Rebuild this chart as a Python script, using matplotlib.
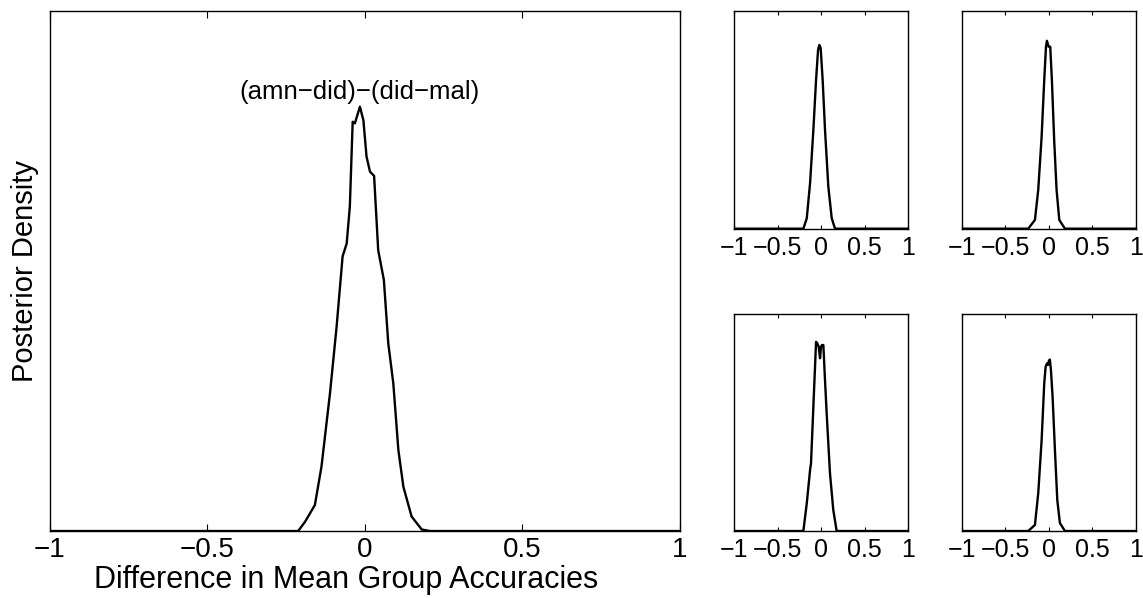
import matplotlib
matplotlib.use("Agg")
import matplotlib.pyplot as plt

plt.rcParams['font.family'] = ['Liberation Sans', 'DejaVu Sans']

# main panel: (amn-did)-(did-mal)
main_x = [-1.0, -0.212, -0.19, -0.159, -0.138, -0.111, -0.09, -0.071, -0.058, -0.048,
          -0.039, -0.032, -0.024, -0.016, -0.005, 0.005, 0.016, 0.029, 0.042, 0.06,
          0.074, 0.09, 0.106, 0.122, 0.148, 0.18, 0.206, 1.0]
main_y = [0.0, 0.0, 0.126, 0.35, 0.868, 1.855, 2.751, 3.696, 3.871, 4.368,
          5.509, 5.488, 5.6, 5.712, 5.53, 5.04, 4.837, 4.781, 3.78, 3.381,
          2.527, 1.988, 1.092, 0.595, 0.196, 0.021, 0.0, 0.0]
main_title = '(amn\u2212did)\u2212(did\u2212mal)'

# small panels
tl_x = [-1.0, -0.203, -0.164, -0.126, -0.088, -0.057, -0.034, -0.019, -0.004,
        0.019, 0.046, 0.084, 0.123, 0.161, 1.0]
tl_y = [0.0, 0.0, 0.33, 1.456, 3.171, 4.774, 5.74, 5.9, 5.796,
        4.774, 3.171, 1.351, 0.336, 0.0, 0.0]

tr_x = [-1.0, -0.238, -0.161, -0.123, -0.084, -0.054, -0.034, -0.023, -0.004,
        0.015, 0.034, 0.061, 0.088, 0.119, 0.184, 1.0]
tr_y = [0.0, 0.0, 0.28, 1.246, 2.954, 4.774, 5.845, 6.034, 5.845,
        5.845, 4.774, 2.8, 1.246, 0.28, 0.0, 0.0]

bl_x = [-1.0, -0.203, -0.164, -0.126, -0.115, -0.088, -0.057, -0.042, -0.027,
        -0.011, 0.0, 0.011, 0.027, 0.042, 0.065, 0.103, 0.141, 0.18, 1.0]
bl_y = [0.0, 0.0, 0.889, 1.967, 2.184, 4.011, 6.104, 6.048, 5.943,
        5.572, 5.943, 5.999, 5.999, 5.089, 3.794, 1.862, 0.679, 0.0, 0.0]

br_x = [-1.0, -0.238, -0.161, -0.123, -0.084, -0.054, -0.038, -0.023, -0.011,
        0.0, 0.011, 0.023, 0.042, 0.069, 0.096, 0.126, 0.184, 1.0]
br_y = [0.0, 0.0, 0.196, 1.218, 2.933, 4.76, 5.299, 5.404, 5.355,
        5.495, 5.53, 5.194, 4.333, 2.611, 1.001, 0.259, 0.0, 0.0]

xticks_main = [-1, -0.5, 0, 0.5, 1]
xtick_labels = ['\u22121', '\u22120.5', '0', '0.5', '1']
ymax = 7.0

fig = plt.figure(figsize=(11.43, 5.98), dpi=100)

ax = fig.add_axes([0.0437, 0.112, 0.5512, 0.8696])
ax.plot(main_x, main_y, color='black', lw=1.7)
ax.set_xlim(-1, 1)
ax.set_ylim(0, ymax)
ax.set_xticks(xticks_main)
ax.set_xticklabels(xtick_labels)
ax.set_yticks([])
ax.tick_params(axis='x', direction='in', top=True, length=5, width=0.8, labelsize=20, pad=4)
ax.set_xlabel('Difference in Mean Group Accuracies', fontsize=22)
ax.xaxis.set_label_coords(0.47, -0.066)
ax.set_ylabel('Posterior Density', fontsize=21, labelpad=8)
i_pk = main_y.index(max(main_y))
ax.text(main_x[i_pk], main_y[i_pk] + 0.1, main_title, ha='center', va='baseline', fontsize=18.5)
for s in ax.spines.values():
    s.set_linewidth(1.0)

small = [
    ([0.6422, 0.6176, 0.1522, 0.3645], tl_x, tl_y),
    ([0.8416, 0.6176, 0.1522, 0.3645], tr_x, tr_y),
    ([0.6422, 0.112, 0.1522, 0.3629], bl_x, bl_y),
    ([0.8416, 0.112, 0.1522, 0.3629], br_x, br_y),
]
for pos, xs, ys in small:
    a = fig.add_axes(pos)
    a.plot(xs, ys, color='black', lw=1.7)
    a.set_xlim(-1, 1)
    a.set_ylim(0, ymax)
    a.set_xticks(xticks_main)
    a.set_xticklabels(xtick_labels)
    a.set_yticks([])
    a.tick_params(axis='x', direction='in', top=True, length=3, width=0.8, labelsize=18, pad=5)
    for s in a.spines.values():
        s.set_linewidth(1.0)

fig.savefig('out.png', dpi=100)
